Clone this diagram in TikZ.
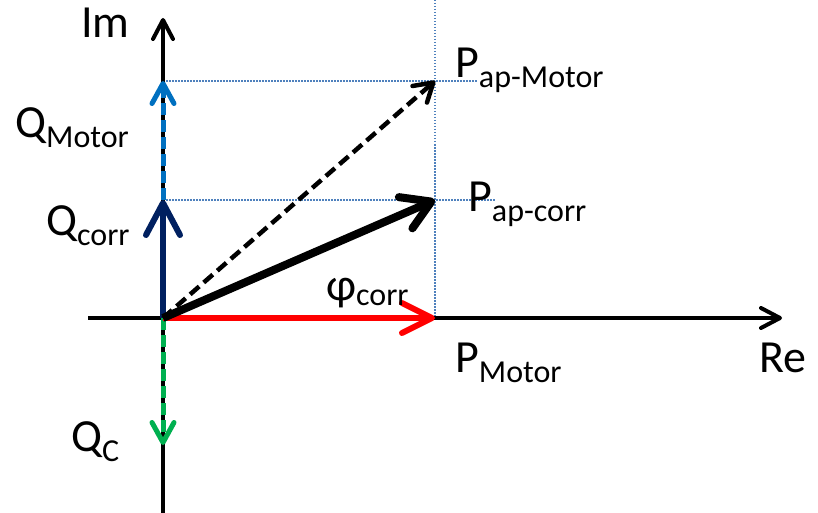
\documentclass[tikz,border=0pt]{standalone}
\usepackage{fontspec}
\setmainfont{Carlito}
\usetikzlibrary{arrows.meta}
\definecolor{qmotor}{HTML}{0070C0}
\definecolor{qcorr}{HTML}{002060}
\definecolor{qcap}{HTML}{00B050}
\definecolor{dotc}{HTML}{4F81BD}
\newcommand{\bigtxt}{\fontsize{46}{50}\selectfont}
\newcommand{\subtxt}[1]{\raisebox{-10pt}{\fontsize{32}{34}\selectfont #1}}
\tikzset{
  lbl/.style={anchor=base west,inner sep=0pt,font=\bigtxt},
  axis/.style={line width=4pt,-{Straight Barb[length=19pt,width=20pt,round]}},
  dotline/.style={dotc,line width=1.2pt,dash pattern=on 1.5pt off 1.5pt},
  dashvec/.style={line width=5pt,dash pattern=on 12pt off 5pt},
}
\begin{document}
\begin{tikzpicture}[x=1pt,y=-1pt]
\useasboundingbox (0,0) rectangle (818,513);
\coordinate (O) at (163,318);
\coordinate (ImTop) at (163,18);
\coordinate (ImBot) at (163,513);
\coordinate (ReL) at (88,318);
\coordinate (ReR) at (782,318);
\coordinate (Pm) at (435,318);
\coordinate (Pc) at (435,200);
\coordinate (Pa) at (435,81);
\coordinate (Qc) at (163,200);
\coordinate (Qm) at (163,81);
\coordinate (Qk) at (163,445);
\coordinate (VTop) at (435,0);
\coordinate (HmEnd) at (477,81);
\coordinate (HcEnd) at (495,200);
% dotted guides
\draw[dotline] (VTop) -- (Pm);
\draw[dotline] (Qm) -- (HmEnd);
\draw[dotline] (Qc) -- (HcEnd);
% axes
\draw[axis] (ImBot) -- (ImTop);
\draw[axis] (ReL) -- (ReR);
% Q_Motor (blue dashed)
\draw[dashvec,qmotor,-{Straight Barb[length=20pt,width=22pt,round]}] (Qc) -- (Qm);
% Q_C (green dashed)
\draw[dashvec,qcap,-{Straight Barb[length=20pt,width=22pt,round]}] (O) -- (Qk);
% Q_corr
\draw[qcorr,line width=6pt,-{Straight Barb[length=32pt,width=34pt,round]}] (O) -- (Qc);
% P_Motor red
\draw[red,line width=6pt,-{Straight Barb[length=30pt,width=30pt,round]}] (O) -- (Pm);
% P_ap-Motor dashed
\draw[line width=4.5pt,dash pattern=on 12pt off 6pt,-{Straight Barb[length=18pt,width=22pt,round]}] (O) -- (Pa);
% P_ap-corr thick
\draw[line width=8pt,-{Straight Barb[length=28pt,width=34pt,round]}] (O) -- (Pc);
% labels
\node[lbl] (lIm) at (81,38) {Im};
\node[lbl] (lRe) at (759,372) {Re};
\node[lbl] (lQm) at (15,138) {Q\subtxt{Motor}};
\node[lbl] (lQc) at (46,235) {Q\subtxt{corr}};
\node[lbl] (lQk) at (71,451) {Q\subtxt{C}};
\node[lbl] (lPa) at (455,78) {P\subtxt{ap-Motor}};
\node[lbl] (lPc) at (468,211) {P\subtxt{ap-corr}};
\node[lbl] (lPm) at (455,372) {P\subtxt{Motor}};
\node[lbl] (lphi) at (326,300) {φ\raisebox{-5pt}{\fontsize{32}{34}\selectfont corr}};
\end{tikzpicture}
\end{document}
